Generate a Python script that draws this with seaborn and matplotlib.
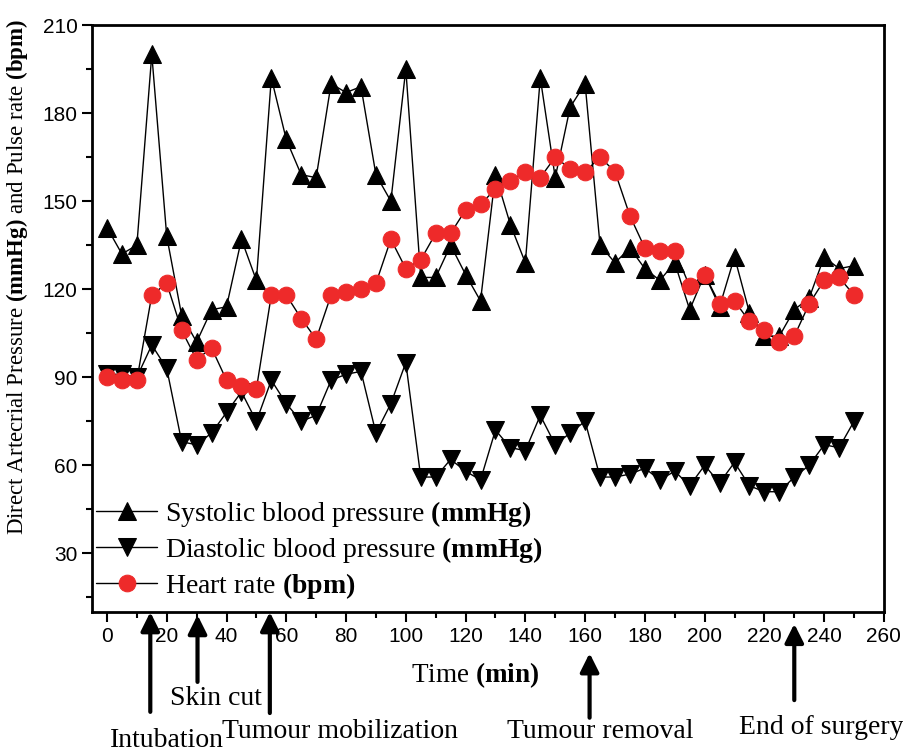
import numpy as np
import pandas as pd
import seaborn as sns
from matplotlib import pyplot as plt
from matplotlib import transforms

# readings every 5 min over the operation
time_min = list(range(0, 255, 5))

systolic = [141, 132, 135, 200, 138, 111, 102, 113, 114, 137,
            123, 192, 171, 159, 158, 190, 187, 189, 159, 150,
            195, 124, 124, 135, 125, 116, 159, 142, 129, 192,
            158, 182, 190, 135, 129, 134, 127, 123, 129, 113,
            125, 114, 131, 112, 104, 104, 113, 117, 131, 127,
            128]

diastolic = [91, 91, 90, 101, 93, 68, 67, 71, 78, 85,
             75, 89, 81, 75, 77, 89, 91, 92, 71, 81,
             95, 56, 56, 62, 58, 55, 72, 66, 65, 77,
             67, 71, 75, 56, 56, 57, 59, 55, 58, 53,
             60, 54, 61, 53, 51, 51, 56, 60, 67, 66,
             75]

heart_rate = [90, 89, 89, 118, 122, 106, 96, 100, 89, 87,
              86, 118, 118, 110, 103, 118, 119, 120, 122, 137,
              127, 130, 139, 139, 147, 149, 154, 157, 160, 158,
              165, 161, 160, 165, 160, 145, 134, 133, 133, 121,
              125, 115, 116, 109, 106, 102, 104, 115, 123, 124,
              118]

events = ["Intubation", "Skin cut", "Tumour mobilization", "Tumour removal", "End of surgery"]
event_time = [14.5, 30.3, 54.5, 161.5, 230]

df = pd.DataFrame({"time": time_min, "sys": systolic, "dia": diastolic, "hr": heart_rate})

sns.set_style("ticks")
plt.rcParams["font.family"] = ["Liberation Serif", "DejaVu Serif"]
plt.rcParams["mathtext.fontset"] = "custom"
plt.rcParams["mathtext.rm"] = "Liberation Serif"
plt.rcParams["mathtext.bf"] = "Liberation Serif:bold"
for k in ["text.color", "axes.labelcolor", "xtick.color", "ytick.color"]:
    plt.rcParams[k] = "black"

red = "#ee2a2a"
fig = plt.figure(figsize=(9.04, 7.51), dpi=100)
ax = fig.add_axes([0.1018, 0.185, 0.876, 0.7817])

sns.lineplot(data=df, x="time", y="sys", ax=ax, color="black", lw=1, marker="^",
             markersize=13, markeredgecolor="black",
             label=r"Systolic blood pressure $\mathbf{(mmHg)}$")
sns.lineplot(data=df, x="time", y="dia", ax=ax, color="black", lw=1, marker="v",
             markersize=13, markeredgecolor="black",
             label=r"Diastolic blood pressure $\mathbf{(mmHg)}$")
sns.lineplot(data=df, x="time", y="hr", ax=ax, color="black", lw=1, marker="o",
             markersize=12, markerfacecolor=red, markeredgecolor=red,
             label=r"Heart rate $\mathbf{(bpm)}$")

ax.set_xlim(-5, 260)
ax.set_ylim(10, 210)
ax.set_xticks(range(0, 261, 20))
ax.set_xticks(range(0, 261, 10), minor=True)
ax.set_yticks(range(30, 211, 30))
ax.set_yticks(range(15, 211, 15), minor=True)
for lab in ax.get_xticklabels() + ax.get_yticklabels():
    lab.set_fontfamily("Liberation Sans")
    lab.set_fontsize(15)
ax.tick_params(which="major", length=7, width=1.5, direction="out", top=False, right=False)
ax.tick_params(which="minor", length=4, width=1.5, direction="out", top=False, right=False)
for sp in ax.spines.values():
    sp.set_visible(True)
    sp.set_linewidth(2)
    sp.set_color("black")

ax.set_xlabel(r"Time $\mathbf{(min)}$", fontsize=19.5)
ax.set_ylabel(r"Direct Artecrial Pressure $\mathbf{(mmHg)}$ and Pulse rate $\mathbf{(bpm)}$", fontsize=16.5)
ax.xaxis.set_label_coords(0.4836, -0.082)
ax.yaxis.set_label_coords(-0.078, 0.57)

leg = ax.legend(loc="lower left", bbox_to_anchor=(-0.009, 0.0), frameon=False,
                fontsize=20, handlelength=2.2, labelspacing=0.22, borderaxespad=0,
                handletextpad=0.3)

# event arrows under the time axis
trans = transforms.blended_transform_factory(ax.transData, ax.transAxes)
arrow_head = [0.0, -0.005, 0.0, -0.07, -0.02]
arrow_tail = [-0.17, -0.119, -0.172, -0.18, -0.15]
text_x = [20.1, 36.3, 78.1, 165, 239.1]
text_y = [-0.218, -0.148, -0.203, -0.204, -0.196]
for name, t, hy, ty, tx, ly in zip(events, event_time, arrow_head, arrow_tail, text_x, text_y):
    ax.annotate("", xy=(t, hy), xytext=(t, ty), xycoords=trans, textcoords=trans,
                annotation_clip=False,
                arrowprops=dict(arrowstyle="-|>", lw=3, color="black", mutation_scale=28,
                                shrinkA=0, shrinkB=0))
    ax.text(tx, ly, name, transform=trans, ha="center", va="center", fontsize=20, clip_on=False)

fig.savefig("out.png", dpi=100)
